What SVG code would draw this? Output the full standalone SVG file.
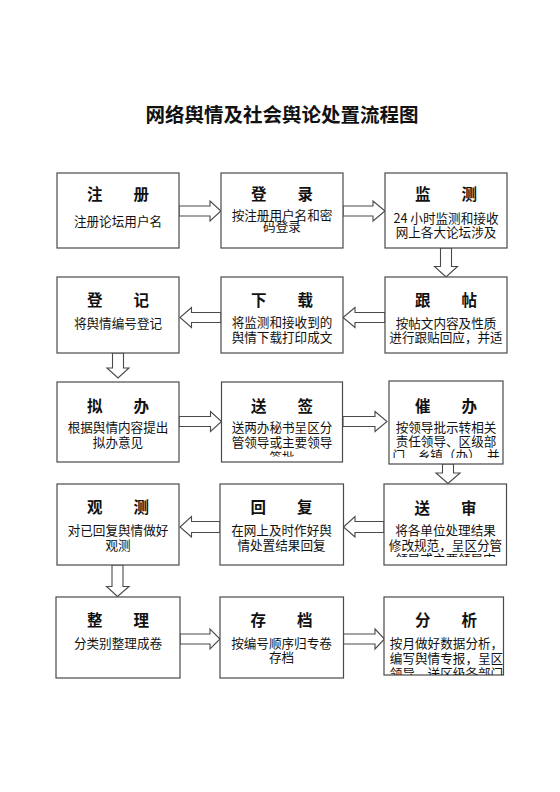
<svg xmlns="http://www.w3.org/2000/svg" width="560" height="792" viewBox="0 0 560 792">
<style>
.box{fill:#fff;stroke:#4a4a4a;stroke-width:1.2}
.arr{fill:#fff;stroke:#4a4a4a;stroke-width:1.1;stroke-linejoin:miter}
.h{font-family:"Noto Sans CJK SC","Noto Sans",sans-serif;font-size:15.5px;font-weight:bold;fill:#111;text-anchor:middle}
.t{font-family:"Noto Sans CJK SC","Noto Sans",sans-serif;font-size:12.6px;fill:#111;text-anchor:middle}
.title{font-family:"Noto Sans CJK SC","Noto Sans",sans-serif;font-size:19.5px;font-weight:bold;fill:#111;text-anchor:middle}
</style>
<defs>
<clipPath id="c8"><rect x="222" y="383" width="120" height="73.5"/></clipPath>
<clipPath id="c9"><rect x="390" y="382" width="112" height="76"/></clipPath>
<clipPath id="c10"><rect x="385" y="485" width="120" height="72"/></clipPath>
<clipPath id="c15"><rect x="385" y="598" width="118" height="77"/></clipPath>
</defs>
<rect width="560" height="792" fill="#fff"/>
<text class="title" x="282" y="122">网络舆情及社会舆论处置流程图</text>

<g id="connectors">
<path class="arr" d="M179,206 H210 V201 L221,211 L210,221 V216 H179 Z"/>
<path class="arr" d="M343,206 H373 V201 L385,211 L373,221 V216 H343 Z"/>
<path class="arr" d="M440.5,248 V266.5 H434.5 L446,277 L457.5,266.5 H451.5 V248 Z"/>
<path class="arr" d="M385,312.5 H355 V307.5 L343,317.5 L355,327.5 V322.5 H385 Z"/>
<path class="arr" d="M221,312.5 H191.5 V307.5 L180,317.5 L191.5,327.5 V322.5 H221 Z"/>
<path class="arr" d="M112.5,353 V368 H107 L118,378 L129,368 H123.5 V353 Z"/>
<path class="arr" d="M179,416.5 H210.5 V411.5 L221.5,421.5 L210.5,431.5 V426.5 H179 Z"/>
<path class="arr" d="M343,416.5 H375 V411.5 L387,421.5 L375,431.5 V426.5 H343 Z"/>
<path class="arr" d="M442.5,464 V473 H436 L448,483.5 L460,473 H453.5 V464 Z"/>
<path class="arr" d="M384,521.5 H355 V516.5 L343.5,527 L355,537 V532.5 H384 Z"/>
<path class="arr" d="M220,521.5 H191.5 V516.5 L180,527 L191.5,537 V532.5 H220 Z"/>
<path class="arr" d="M112,565 V586.5 H106.5 L117.5,596.5 L129,586.5 H123 V565 Z"/>
<path class="arr" d="M180,634 H210 V629 L220,639 L210,649 V644 H180 Z"/>
<path class="arr" d="M343.5,634 H375 V629 L384.5,639 L375,649 V644 H343.5 Z"/>
</g>

<g id="n1"><rect class="box" x="57" y="173" width="122" height="75"/>
<text class="h" x="118" y="200">注　　册</text>
<text class="t" x="118" y="226">注册论坛用户名</text></g>

<g id="n2"><rect class="box" x="221" y="173" width="122" height="75"/>
<text class="h" x="282" y="200">登　　录</text>
<text class="t"><tspan x="282" y="220">按注册用户名和密</tspan><tspan x="282" y="230.5">码登录</tspan></text></g>

<g id="n3"><rect class="box" x="385" y="173" width="122" height="75"/>
<text class="h" x="446" y="200">监　　测</text>
<text class="t"><tspan x="446" y="222.5">24 小时监测和接收</tspan><tspan x="446" y="236.5">网上各大论坛涉及</tspan></text></g>

<g id="n4"><rect class="box" x="385" y="277" width="122" height="76"/>
<text class="h" x="446" y="306">跟　　帖</text>
<text class="t"><tspan x="446" y="328">按帖文内容及性质</tspan><tspan x="446" y="341.5">进行跟贴回应，并适</tspan></text></g>

<g id="n5"><rect class="box" x="221" y="277" width="122" height="76"/>
<text class="h" x="282" y="306">下　　载</text>
<text class="t"><tspan x="282" y="327">将监测和接收到的</tspan><tspan x="282" y="341.5">舆情下载打印成文</tspan></text></g>

<g id="n6"><rect class="box" x="57" y="277" width="122" height="76"/>
<text class="h" x="118" y="306">登　　记</text>
<text class="t" x="118" y="328">将舆情编号登记</text></g>

<g id="n7"><rect class="box" x="57" y="382" width="122" height="80"/>
<text class="h" x="118" y="412">拟　　办</text>
<text class="t"><tspan x="118" y="431.5">根据舆情内容提出</tspan><tspan x="118" y="446.5">拟办意见</tspan></text></g>

<g id="n8"><rect class="box" x="221.5" y="382" width="121" height="80"/>
<text class="h" x="282" y="412">送　　签</text>
<g clip-path="url(#c8)">
<text class="t"><tspan x="282" y="431.5">送两办秘书呈区分</tspan><tspan x="282" y="446.5">管领导或主要领导</tspan><tspan x="282" y="461.5">签批</tspan></text></g></g>

<g id="n9"><rect class="box" x="389" y="381" width="114" height="83"/>
<text class="h" x="446" y="412">催　　办</text>
<g clip-path="url(#c9)">
<text class="t"><tspan x="446" y="431.5">按领导批示转相关</tspan><tspan x="446" y="445.5">责任领导、区级部</tspan><tspan x="446" y="459.5">门、乡镇（办），并</tspan></text></g></g>

<g id="n10"><rect class="box" x="384" y="484" width="122.5" height="81"/>
<text class="h" x="445.5" y="514">送　　审</text>
<g clip-path="url(#c10)">
<text class="t"><tspan x="445.5" y="535">将各单位处理结果</tspan><tspan x="445.5" y="549.5">修改规范，呈区分管</tspan><tspan x="445.5" y="564">领导或主要领导审</tspan></text></g></g>

<g id="n11"><rect class="box" x="220" y="484" width="123.5" height="81"/>
<text class="h" x="281.5" y="513">回　　复</text>
<text class="t"><tspan x="281.5" y="535">在网上及时作好舆</tspan><tspan x="281.5" y="549.5">情处置结果回复</tspan></text></g>

<g id="n12"><rect class="box" x="57" y="484" width="122" height="81"/>
<text class="h" x="118" y="513">观　　测</text>
<text class="t"><tspan x="118" y="535">对已回复舆情做好</tspan><tspan x="118" y="549.5">观测</tspan></text></g>

<g id="n13"><rect class="box" x="56" y="597" width="124" height="81"/>
<text class="h" x="118" y="625.5">整　　理</text>
<text class="t" x="118" y="648">分类别整理成卷</text></g>

<g id="n14"><rect class="box" x="220" y="597" width="123.5" height="81"/>
<text class="h" x="281.5" y="625.5">存　　档</text>
<text class="t"><tspan x="281.5" y="648">按编号顺序归专卷</tspan><tspan x="281.5" y="662">存档</tspan></text></g>

<g id="n15"><rect class="box" x="384" y="597" width="119.5" height="78"/>
<text class="h" x="446" y="625.5">分　　析</text>
<g clip-path="url(#c15)">
<text class="t"><tspan x="446.5" y="648">按月做好数据分析，</tspan><tspan x="446.5" y="663">编写舆情专报，呈区</tspan><tspan x="446.5" y="678">领导、送区级各部门</tspan></text></g></g>
</svg>
